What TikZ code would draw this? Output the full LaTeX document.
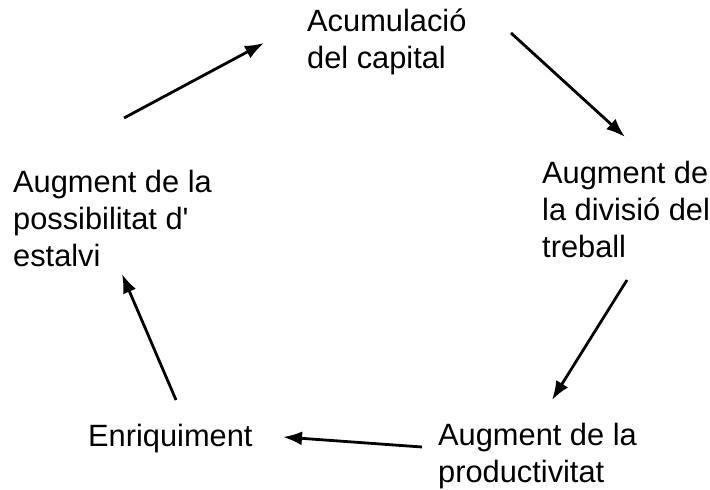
\documentclass[tikz,border=0pt]{standalone}
\usepackage{fontspec}
\setmainfont{Liberation Sans}
\usepackage{tikz}
\usetikzlibrary{arrows.meta}
\tikzset{>={Latex[length=19pt,width=14pt]}}

\begin{document}
\begin{tikzpicture}[x=1pt,y=1pt,
    stage/.style={anchor=base west,inner sep=0pt,align=left,
      font=\fontsize{30.8}{37}\selectfont},
    cycle/.style={->,line width=2.8pt}]
  \useasboundingbox (0,0) rectangle (710,490);

  % stages of the cycle (placed at the baseline of their last line)
  \node[stage] (capital)  at (307,421) {Acumulació\\del capital};
  \node[stage] (divisio)  at (542,232) {Augment de\\la divisió del\\treball};
  \node[stage] (product)  at (438,7)   {Augment de la\\productivitat};
  \node[stage] (enriq)    at (88,43)   {Enriquiment};
  \node[stage] (estalvi)  at (13,223)  {Augment de la\\possibilitat d\textquotesingle\\estalvi};

  % arrows round the cycle
  \draw[cycle] ([shift={(111,149)}]estalvi.base west) -- ([shift={(-43,26)}]capital.base west);
  \draw[cycle] ([shift={(204,36)}]capital.base west) -- ([shift={(83,121)}]divisio.base west);
  \draw[cycle] ([shift={(85,-22)}]divisio.base west) -- ([shift={(114,83)}]product.base west);
  \draw[cycle] ([shift={(-16,36)}]product.base west) -- ([shift={(195,10)}]enriq.base west);
  \draw[cycle] ([shift={(88,47)}]enriq.base west) -- ([shift={(109,-7)}]estalvi.base west);

\end{tikzpicture}
\end{document}
